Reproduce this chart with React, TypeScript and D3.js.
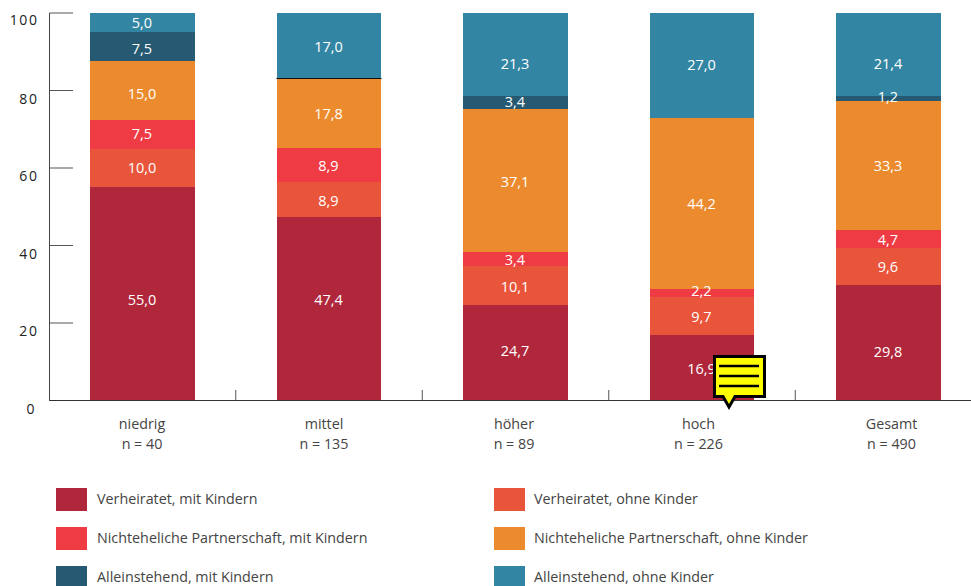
import React from "react";
import * as d3 from "d3";

const categories = ["niedrig", "mittel", "höher", "hoch", "Gesamt"];
const counts = ["n = 40", "n = 135", "n = 89", "n = 226", "n = 490"];
const seriesNames = [
  "Verheiratet, mit Kindern",
  "Verheiratet, ohne Kinder",
  "Nichteheliche Partnerschaft, mit Kindern",
  "Nichteheliche Partnerschaft, ohne Kinder",
  "Alleinstehend, mit Kindern",
  "Alleinstehend, ohne Kinder",
];
const colors = ["#b0273c", "#e9553b", "#ef3b43", "#ec8b2e", "#265a72", "#3386a3"];

const marriedKids = [55.0, 47.4, 24.7, 16.9, 29.8];
const marriedNoKids = [10.0, 8.9, 10.1, 9.7, 9.6];
const partnerKids = [7.5, 8.9, 3.4, 2.2, 4.7];
const partnerNoKids = [15.0, 17.8, 37.1, 44.2, 33.3];
const singleKids = [7.5, 0, 3.4, null, 1.2];
const singleNoKids = [5.0, 17.0, 21.3, 27.0, 21.4];
const yTicks = [0, 20, 40, 60, 80, 100];

const allValues = [marriedKids, marriedNoKids, partnerKids, partnerNoKids, singleKids, singleNoKids];

const font = "'Open Sans', 'Noto Sans', sans-serif";

// the original labels are placed by hand, not always mid segment
const labelNudge: Record<string, number> = {
  "0-0": 5,
  "0-1": -10,
  "0-2": -3,
  "0-4": 8,
  "1-0": -1,
  "2-0": -1,
  "3-0": 2,
  "1-2": 1,
  "2-3": -3,
  "4-0": 1,
  "4-2": -1,
  "4-4": -2,
  "5-0": -1,
  "5-2": 9,
  "5-3": -1,
  "5-4": 9,
};
const categoryShift = [-0.5, -5, -1.5, -3.5, 3];

const rows = categories.map((c, i) => {
  const row: Record<string, any> = { category: c };
  seriesNames.forEach((s, j) => (row[s] = allValues[j][i]));
  return row;
});

const stacked = d3.stack().keys(seriesNames).value((d: any, k) => d[k] ?? 0)(rows as any);

const x = d3.scaleBand().domain(categories).range([49.25, 981.75]).paddingInner(0.437).paddingOuter(0.2185);
const y = d3.scaleLinear().domain([0, 100]).range([400.5, 13]);

const legendX = [56, 494];
const legendTextX = [97, 534];
const legendY = [488, 527, 566];

export default function App() {
  return (
    <svg
      width={971}
      height={586}
      viewBox="0 0 971 586"
      style={{ position: "absolute", left: 0, top: 0, display: "block", fontFamily: font }}
    >
      {stacked.map((layer, j) => (
        <g key={seriesNames[j]} shapeRendering="crispEdges">
          {layer.map((d, i) => {
            const raw = allValues[j][i];
            if (!raw) return null;
            const top = y(d[1]);
            return (
              <rect
                key={i}
                x={x(categories[i]) as number}
                y={top}
                width={x.bandwidth()}
                height={y(d[0]) - top}
                fill={colors[j]}
              />
            );
          })}
        </g>
      ))}

      {/* a zero share still shows as a hairline */}
      {stacked.map((layer, j) =>
        layer.map((d, i) => {
          if (allValues[j][i] !== 0) return null;
          const bx = x(categories[i]) as number;
          return (
            <line
              key={`${j}-${i}`}
              x1={bx}
              x2={bx + x.bandwidth()}
              y1={Math.floor(y(d[1])) + 0.5}
              y2={Math.floor(y(d[1])) + 0.5}
              stroke="#111"
              strokeWidth={1}
            />
          );
        })
      )}

      {/* value labels go above all segments, the thin ones overflow */}
      {stacked.map((layer, j) =>
        layer.map((d, i) => {
          const raw = allValues[j][i];
          if (!raw) return null;
          return (
            <text
              key={`${j}-${i}`}
              x={(x(categories[i]) as number) + x.bandwidth() / 2 - 0.5}
              y={y((d[0] + d[1]) / 2) + 6 + (labelNudge[`${j}-${i}`] ?? 0)}
              textAnchor="middle"
              fontSize={14.5}
              fill="#fff"
            >
              {d3.format(".1f")(raw).replace(".", ",")}
            </text>
          );
        })
      )}

      {/* y axis */}
      <line x1={49.5} x2={49.5} y1={y(100)} y2={y(0)} stroke="#444" strokeWidth={1} />
      {yTicks.map((t) => (
        <g key={t}>
          <line x1={49.5} x2={73} y1={y(t)} y2={y(t)} stroke={t === 0 ? "#333" : "#555"} strokeWidth={1} />
          <text
            x={t === 0 ? 36 : 38.5}
            y={y(t) + (t === 100 ? 12 : 13)}
            textAnchor="end"
            fontSize={14}
            letterSpacing={1.6}
            fill="#222"
          >
            {t}
          </text>
        </g>
      ))}

      {/* x axis */}
      <line x1={49.5} x2={971} y1={y(0)} y2={y(0)} stroke="#333" strokeWidth={1} />
      {categories.slice(1).map((c) => {
        const tx = (x(c) as number) - (x.step() - x.bandwidth()) / 2;
        return <line key={c} x1={tx} x2={tx} y1={390} y2={y(0)} stroke="#555" strokeWidth={1} />;
      })}
      {categories.map((c, i) => {
        const cx = (x(c) as number) + x.bandwidth() / 2 + categoryShift[i];
        return (
          <g key={c} fontSize={14.3} fill="#444" textAnchor="middle">
            <text x={cx} y={429}>{c}</text>
            <text x={cx} y={449}>{counts[i]}</text>
          </g>
        );
      })}

      {/* legend */}
      {seriesNames.map((s, j) => {
        const col = j % 2;
        const row = Math.floor(j / 2);
        return (
          <g key={s}>
            <rect x={legendX[col]} y={legendY[row]} width={31} height={23} fill={colors[j]} />
            <text x={legendTextX[col]} y={legendY[row] + 16} fontSize={14.3} fill="#444">
              {s}
            </text>
          </g>
        );
      })}

      {/* note marker sitting on the chart */}
      <path
        d="M714.5 356.5H764.5V396.5H735L729 407L723 396.5H714.5Z"
        fill="#ffff00"
        stroke="#000"
        strokeWidth={3}
      />
      {[366, 376, 386].map((ly) => (
        <line key={ly} x1={719} x2={759} y1={ly} y2={ly} stroke="#000" strokeWidth={2.4} />
      ))}
    </svg>
  );
}
